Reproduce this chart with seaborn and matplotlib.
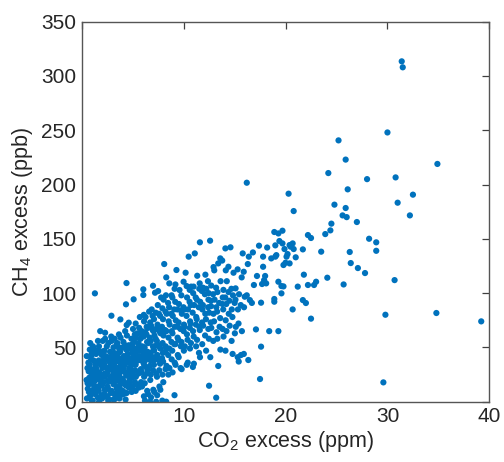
import numpy as np
import pandas as pd
import matplotlib
matplotlib.use("Agg")
import matplotlib.pyplot as plt
import seaborn as sns

# ---- data (CO2 excess in ppm, CH4 excess in ppb) ----
co2_core = [
    0.52,0.71,0.60,0.48,0.74,0.57,0.66,0.50,
    0.81,1.02,0.87,0.96,1.04,0.79,0.93,0.99,0.84,
    1.09,1.31,1.14,1.28,1.22,1.06,1.34,1.17,1.25,1.11,
    1.58,1.39,1.62,1.44,1.61,1.37,1.55,1.42,1.64,
    1.71,1.93,1.68,1.88,1.95,1.73,1.90,1.67,1.97,1.70,1.82,
    2.01,2.23,1.99,2.19,2.26,2.03,2.21,1.98,2.24,2.07,
    2.49,2.31,2.54,2.29,2.52,2.34,2.56,2.33,2.47,2.30,
    2.61,2.83,2.59,2.81,2.86,2.63,2.85,2.58,2.79,2.62,
    3.11,2.92,3.13,2.94,3.09,2.91,3.14,2.96,3.12,2.93,2.92,
    3.21,3.43,3.19,3.41,3.44,3.22,3.39,3.18,3.45,3.24,
    3.71,3.52,3.73,3.49,3.69,3.51,3.74,3.54,3.68,3.50,3.66,
    3.81,4.03,3.79,4.01,4.04,3.83,3.99,3.78,4.05,3.82,3.80,
    4.31,4.12,4.33,4.09,4.29,4.11,4.34,4.14,4.28,4.10,4.27,4.35,
    4.41,4.63,4.39,4.61,4.64,4.43,4.59,4.38,4.62,4.44,4.42,4.40,
    4.91,4.72,4.93,4.69,4.89,4.71,4.94,4.74,4.88,4.62,
    5.01,5.23,4.99,5.21,5.24,5.03,5.19,4.98,5.22,5.04,5.10,
    5.51,5.32,5.53,5.29,5.49,5.31,5.54,5.34,5.48,5.30,
    5.61,5.83,5.59,5.81,5.84,5.63,5.79,5.58,5.82,5.64,5.71,
    6.11,5.92,6.13,5.89,6.09,5.91,6.14,5.94,6.08,5.90,6.12,6.10,6.05,6.05,
    6.21,6.43,6.19,6.41,6.44,6.23,6.39,6.18,6.42,6.24,6.38,6.27,
    6.71,6.52,6.73,6.49,6.69,6.51,6.74,6.54,6.68,6.50,6.72,6.62,
    6.81,7.03,6.79,7.01,7.04,6.83,6.99,6.78,7.05,6.82,6.96,6.87,7.00,
    7.31,7.12,7.33,7.09,7.29,7.11,7.34,7.14,7.28,7.10,7.27,7.20,
    7.41,7.63,7.39,7.61,7.64,7.43,7.59,7.38,7.62,7.44,7.58,7.47,7.50,
    7.91,7.72,7.93,7.69,7.89,7.71,7.94,7.74,7.88,7.70,7.92,7.80,
]
ch4_core = [
    3,9,12,20,22,31,36,42,
    5,8,17,24,26,34,39,44,54,
    1,7,11,19,21,29,35,38,48,51,
    4,10,14,22,25,32,36,44,47,
    0,6,10,16,23,27,34,38,46,51,65,
    3,7,15,18,26,31,35,43,47,56,
    5,11,14,23,27,32,39,42,51,63.5,
    1,8,12,19,23,30,34,41,46,54,
    2,10,16,21,25,33,38,42,50,56,79.2,
    7,12,18,22,29,33,41,45,53,58,
    3,9,13,20,24,31,37,41,49,54,62,
    6,10,17,21,28,34,38,46,50,59,75.8,
    2,9,15,19,27,30,38,42,50,55,65,89.7,
    8,13,17,25,28,36,40,48,52,61,70.6,109.3,
    9,17,22,26,34,37,45,49,58,72.8,
    14,18,26,29,37,41,49,53,62,67,94.3,
    15,23,27,34,38,46,50,59,63,72,
    13,18,26,30,38,42,50,54,63,68,78,
    5,14,23,27,35,39,47,51,60,65,74,80,98.3,103.5,
    1,10,17,26,30,38,42,50,55,64,69,78,
    0,7,20,29,33,41,45,54,59,68,73,83,
    4,11,25,29,38,42,51,56,65,70,79,85,106.8,
    0,9,26,34,39,47,52,61,67,76,82,100.4,
    6,14,23,29,38,43,51,56,65,71,81,89,101.9,
    1,11,25,35,40,49,54,63,69,79,86,96,
]

co2_fill = [0.77,0.69,1.08,0.98,1.33,1.41,1.66,1.59,1.92,2.02,2.27,2.18,2.57,2.48,
            2.88,2.79,3.16,3.07,3.47,3.38,3.77,3.68,4.06,3.97,4.37,4.26,4.66,4.57,
            4.96,4.87,5.27,5.16,5.56,5.47,5.86,5.77,6.17,6.06,6.46,6.36,6.77,6.66,
            7.06,6.97,7.37,7.26,7.67,7.56,7.97,7.86,1.30,0.70,1.00,1.40,2.00,2.60,
            3.20,3.50,4.10,4.70,5.30,0.80,1.10,1.60,2.30,2.90,
            0.58,0.92,1.21,1.49,1.76,2.11,2.38,2.71,3.02,3.31,3.62,3.91,4.22,4.51,
            4.83,5.12,5.41,5.72,6.01,6.31]
ch4_fill = [10,28,19,43,8,31,13,36,22,46,11,33,19,40,
            9,31,22,44,14,37,28,50,17,40,24,52,31,14,
            40,24,35,55,28,47,40,58,33,50,46,62,38,56,
            48,66,42,58,52,68,45,64,99.8,16,1,25,5,3,
            2,4,7,20,10,48,50,56,58,60,
            17,30,15,28,20,38,25,37,29,26,45,31,34,44,
            30,45,41,47,43,46]

co2_mid = [
    8.01,8.23,7.99,8.21,8.24,8.03,8.19,7.98,8.22,8.04,8.10,
    8.30,8.51,8.33,8.49,8.29,8.52,8.31,8.54,8.34,8.48,8.27,8.30,
    8.61,8.83,8.59,8.81,8.84,8.63,8.79,8.58,8.82,8.60,
    9.11,8.92,9.13,8.89,9.09,8.91,9.14,8.94,9.08,8.90,9.12,
    9.21,9.43,9.19,9.41,9.44,9.23,9.39,9.18,9.20,9.30,
    9.71,9.52,9.73,9.49,9.69,9.51,9.74,9.54,9.60,
    9.81,10.03,9.79,10.01,10.04,9.83,9.99,9.78,10.00,
    10.31,10.12,10.33,10.09,10.29,10.11,10.34,10.30,10.20,
    10.41,10.63,10.39,10.61,10.64,10.43,10.59,10.60,10.50,
    10.91,10.72,10.93,10.69,10.89,10.71,10.94,10.74,
    11.01,11.23,10.99,11.21,11.24,11.03,11.19,10.98,11.10,
    11.51,11.32,11.53,11.29,11.49,11.31,11.54,11.34,
    11.61,11.83,11.59,11.81,11.84,11.63,11.79,11.58,11.60,
    12.11,11.92,12.13,11.89,12.09,11.91,12.14,
    12.21,12.43,12.19,12.41,12.44,12.23,12.39,
    12.50,12.62,12.48,12.66,12.51,12.68,12.46,12.60,
    12.91,12.72,12.93,12.69,12.89,12.71,12.94,
    13.20,13.23,12.99,13.21,13.04,13.19,13.01,
    13.40,13.31,13.53,13.29,13.49,13.32,13.40,13.60,
    13.61,13.83,13.59,13.81,13.84,13.63,13.79,
    14.11,13.92,14.13,13.89,14.09,13.91,14.14,14.10,
    14.21,14.43,14.19,14.41,14.24,14.40,
    14.71,14.52,14.73,14.49,14.69,14.60,
    14.81,15.03,14.79,15.01,14.84,14.90,
    15.31,15.12,15.33,15.09,15.10,15.30,
    15.41,15.63,15.39,15.61,15.44,15.70,
    15.91,15.72,15.93,15.90,15.80,
    16.00,16.20,16.20,
    16.35,16.50,16.40,16.30,
    16.80,16.90,16.70,
]
ch4_mid = [
    18,30,37,46,51,61,66,76,83,94,126.8,
    0,25,33,43,49,59,65,74,81,91,98,114.5,
    31,39,49,55,65,71,81,87,98,109,
    6,27,36,47,53,63,69,79,85,96,104,
    34,43,53,59,69,75,85,92,108,121.3,
    31,41,51,57,67,73,84,90,102.9,
    30,47,55,65,71,81,87,98,110.5,
    34,51,62,69,79,85,96,106.5,118.8,
    36,49,57,68,74,85,92,103,133.6,
    32,54,65,72,82,89,100,106,
    35,51,60,71,78,89,96,106,136.6,
    45,57,69,76,87,94,104,116,
    41,53,66,73,85,92,102,109,146.8,
    61,70,81,89,99,105,117,
    47,67,76,87,94,104,111,
    14.7,41,58,73,82,93,100,148.3,
    56,68,81,88,99,107,124,
    3.7,64,74,87,94,105,121,
    32.9,58,69,83,91,101,127.4,132,
    48,67,77,90,96,111,130,
    47,60,75,85,96,103,121,141.2,
    65,81,90,101,111,124.3,
    56,70,85,93,104,142.2,
    44,63,78,91,98,118.8,
    41,69,85,94,104.4,121.9,
    37,43,72,89,99,114.5,
    44,65,87,119.7,136.6,
    96.7,98,201.7,
    38.4,93.6,133.6,126.8,
    137.5,107.5,91,
]

co2_high = [17.1,17.5,17.6,17.6,17.2,17.4,17.8,17.8,17.7,18.0,17.9,18.1,18.2,18.4,
            18.6,18.9,18.9,18.9,19.0,19.0,19.1,19.3,19.3,19.3,19.4,19.6,19.6,19.7,
            19.7,19.8,19.8,19.9,20.0,20.1,20.2,20.3,20.4,20.4,20.5,20.7,20.7,20.8,
            20.8,21.0,21.2,21.7,21.7,21.8,22.0,22.2,22.2,22.5,22.5,22.8,23.0,23.5,
            23.9,24.1,24.2,24.4,24.5,24.8,25.2,25.6,25.7,25.9,25.9,26.0,26.1,26.3,
            26.4,27.0,27.1,27.8,28.0,28.2,28.9,28.9,29.6,29.8,30.0,30.7,30.8,31.0,
            31.4,31.5,32.2,32.5,34.8,34.9,39.2]
ch4_high = [66.6,20.9,50.7,91.2,115.8,143.7,133.6,124.3,108.4,115.8,112,109,142,65,
            132,156.3,94.6,92.1,144,133.6,135,155,65,110.5,148,106.5,99.8,157.5,
            145.8,106.2,125.9,140.6,128,133.6,136,191.6,144.3,127.4,142.8,145.8,85,140.6,
            175.6,133,106,140.3,93.6,117,90.9,153.5,107.5,150.8,76.5,107.5,110.5,138.2,
            154.4,114.2,210.6,157.8,164,181.5,240.7,171.6,108,223,178.4,170,195.6,137.9,
            127.7,165.5,123.1,118.5,205,150.1,146.8,139,17.8,80.1,248,112,206.6,183.3,
            313.5,308,171.6,190.7,81.7,219,74]

x_ticks = [0, 10, 20, 30, 40]
y_ticks = [0, 50, 100, 150, 200, 250, 300, 350]

df = pd.DataFrame({
    "co2": co2_core + co2_fill + co2_mid + co2_high,
    "ch4": ch4_core + ch4_fill + ch4_mid + ch4_high,
})

sns.set_style("white")
plt.rcParams["font.family"] = ["Liberation Sans", "DejaVu Sans"]
plt.rcParams["mathtext.fontset"] = "custom"
plt.rcParams["mathtext.rm"] = "Liberation Sans"
plt.rcParams["mathtext.it"] = "Liberation Sans"

text_c = "#262626"
fig = plt.figure(figsize=(5.04, 4.62), dpi=100)
ax = fig.add_axes([0.162, 0.1305, 0.809, 0.8225])
sns.scatterplot(data=df, x="co2", y="ch4", ax=ax, color="#0072BD",
                s=20, linewidth=0, edgecolor="none")

ax.set_xlim(0, 40)
ax.set_ylim(0, 350)
ax.set_xticks(x_ticks)
ax.set_yticks(y_ticks)
ax.tick_params(direction="in", length=5, width=0.9, top=True, right=True,
               labelsize=15, colors="#404040", labelcolor=text_c, pad=4)
for sp in ax.spines.values():
    sp.set_visible(True)
    sp.set_color("#555555")
    sp.set_linewidth(1.0)
ax.set_xlabel("CO$_2$ excess (ppm)", fontsize=15.5, color=text_c, labelpad=2)
ax.set_ylabel("CH$_4$ excess (ppb)", fontsize=15.5, color=text_c, labelpad=4)

fig.savefig("out.png", dpi=100, facecolor="white")
